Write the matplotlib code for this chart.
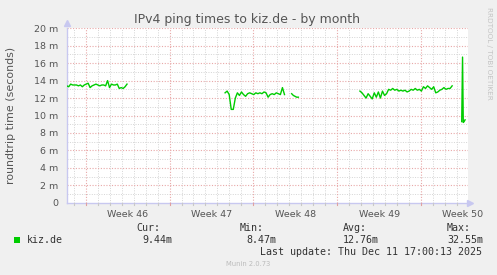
import numpy as np
import matplotlib
matplotlib.use("Agg")
import matplotlib.pyplot as plt
from matplotlib import transforms

# ---------------- data (days relative to start of week 46; values in ms) ----------------
title = "IPv4 ping times to kiz.de - by month"
ylabel = "roundtrip time (seconds)"
week_labels = ["Week 46", "Week 47", "Week 48", "Week 49", "Week 50"]
week_label_days = [3.5, 10.5, 17.5, 24.5, 31.5]
week_start_days = [0, 7, 14, 21, 28]
ytick_vals = [0, 2, 4, 6, 8, 10, 12, 14, 16, 18, 20]
ytick_labels = ["0", "2 m", "4 m", "6 m", "8 m", "10 m", "12 m", "14 m", "16 m", "18 m", "20 m"]

seg1_range = (-1.58, 3.45)
seg1_vals = [13.4, 13.3, 13.6, 13.5, 13.5, 13.5, 13.4, 13.5, 13.3, 13.5, 13.6, 13.7, 13.2,
             13.4, 13.5, 13.6, 13.5, 13.4, 13.5, 13.5, 13.4, 14.0, 13.2, 13.6, 13.5, 13.5,
             13.6, 13.1, 13.2, 13.1, 13.3, 13.6]
seg2_range = (11.64, 16.6)
seg2_vals = [12.6, 12.8, 12.4, 10.7, 10.7, 12.0, 12.6, 12.3, 12.7, 12.4, 12.2, 12.5, 12.6,
             12.5, 12.4, 12.6, 12.5, 12.6, 12.5, 12.7, 12.6, 12.1, 12.4, 12.5, 12.4, 12.6,
             12.5, 12.4, 13.2, 12.4]
seg3_range = (17.2, 17.76)
seg3_vals = [12.5, 12.3, 12.2, 12.1, 12.1]
seg4_range = (22.9, 30.6)
seg4_vals = [12.8, 12.6, 12.3, 12.0, 12.5, 12.2, 11.9, 12.6, 12.1, 12.7, 12.0, 12.8, 12.3,
             12.5, 13.0, 12.9, 13.1, 12.9, 13.0, 12.8, 12.9, 12.8, 12.9, 12.7, 12.8, 13.0,
             12.9, 13.1, 12.9, 13.0, 12.8, 13.3, 13.1, 13.4, 13.2, 13.0, 13.3, 12.6, 12.7,
             12.9, 13.0, 13.2, 13.0, 13.1, 13.1, 13.4]
seg5_days = [31.40, 31.47, 31.53, 31.60, 31.68]
seg5_vals = [9.3, 16.7, 9.2, 9.3, 9.5]

legend_name = "kiz.de"
stat_names = ["Cur:", "Min:", "Avg:", "Max:"]
stat_values = ["9.44m", "8.47m", "12.76m", "32.55m"]
last_update = "Last update: Thu Dec 11 17:00:13 2025"
footer = "Munin 2.0.73"
side_text = "RRDTOOL / TOBI OETIKER"

# ---------------- figure ----------------
W, H = 497, 275
fig = plt.figure(figsize=(W / 100, H / 100), dpi=100, facecolor="#F0F0F0")
x0, x1, ytop, ybot = 66.7, 467.7, 28.3, 202.7
ax = fig.add_axes([x0 / W, 1 - ybot / H, (x1 - x0) / W, (ybot - ytop) / H])
ax.set_facecolor("white")
xmin, xmax = -1.587, 31.9
ax.set_xlim(xmin, xmax)
ax.set_ylim(0, 20)

# grid
for d in range(-1, 32):
    if d in week_start_days:
        continue
    ax.axvline(d, color="#d4d4d4", lw=0.7, ls=(0, (1, 1.5)), zorder=1)
for v in range(1, 21, 2):
    ax.axhline(v, color="#d4d4d4", lw=0.7, ls=(0, (1, 1.5)), zorder=1)
for d in week_start_days:
    ax.axvline(d, color="#e8a8a8", lw=0.8, ls=(0, (1, 1.5)), zorder=2)
for v in ytick_vals[1:]:
    ax.axhline(v, color="#e8a8a8", lw=0.8, ls=(0, (1, 1.5)), zorder=2)

# small tick marks under the x-axis
for d in range(-1, 32):
    col = "#e0a0a0" if d in week_start_days else "#c8c8c8"
    ax.plot([d, d], [0, -0.3], color=col, lw=0.8, clip_on=False, zorder=3)

# data
green = "#00CC00"
for (a, b), vals in [(seg1_range, seg1_vals), (seg2_range, seg2_vals),
                     (seg3_range, seg3_vals), (seg4_range, seg4_vals)]:
    xs = np.linspace(a, b, len(vals))
    ax.plot(xs, vals, color=green, lw=1.0, zorder=5)
ax.plot(seg5_days, seg5_vals, color=green, lw=1.0, zorder=5)

# spines / axes arrows
for s in ["top", "right"]:
    ax.spines[s].set_visible(False)
axis_col = "#c8c8f0"
ax.spines["left"].set_color(axis_col)
ax.spines["bottom"].set_color(axis_col)
ax.spines["left"].set_linewidth(1.0)
ax.spines["bottom"].set_linewidth(1.0)
ax.plot([0], [1.03], marker="^", color=axis_col, ms=4, transform=ax.transAxes, clip_on=False)
ax.plot([1.005], [0], marker=">", color=axis_col, ms=4, transform=ax.transAxes, clip_on=False)

ax.set_yticks(ytick_vals)
ax.set_yticklabels(ytick_labels)
ax.set_xticks(week_label_days)
ax.set_xticklabels(week_labels)
ax.tick_params(axis="x", length=0, pad=5, labelsize=6.8, labelcolor="#555555")
ax.tick_params(axis="y", length=0, pad=6, labelsize=6.8, labelcolor="#555555")

# texts
fig.text(247.5 / W, 1 - 19 / H, title, ha="center", va="center", fontsize=9.0, color="#555555")
fig.text(11 / W, 1 - 115 / H, ylabel, ha="center", va="center", rotation=90, fontsize=7.9,
         color="#555555")
fig.text(489 / W, 1 - 53 / H, side_text, ha="center", va="center", rotation=-90, fontsize=5.2,
         color="#c4c4c4")

mono = "DejaVu Sans Mono"
fs = 7.2
tc = "#333333"
fig.patches.append(plt.Rectangle((14 / W, 1 - 243 / H), 6 / W, 6 / H, transform=fig.transFigure,
                                 facecolor=green, edgecolor="none"))
fig.text(26.7 / W, 1 - 240 / H, legend_name, ha="left", va="center", family=mono, fontsize=fs, color=tc)
name_x = [136, 240, 343.3, 446.7]
val_right = [172, 276, 379, 483]
for nx, nm in zip(name_x, stat_names):
    fig.text(nx / W, 1 - 228.3 / H, nm, ha="left", va="center", family=mono, fontsize=fs, color=tc)
for vx, vv in zip(val_right, stat_values):
    fig.text(vx / W, 1 - 240 / H, vv, ha="right", va="center", family=mono, fontsize=fs, color=tc)
fig.text(482.5 / W, 1 - 251.7 / H, last_update, ha="right", va="center", family=mono, fontsize=fs,
         color=tc)
fig.text(248 / W, 1 - 264 / H, footer, ha="center", va="center", fontsize=4.9, color="#bbbbbb")

fig.savefig("out.png", dpi=100, facecolor=fig.get_facecolor())
